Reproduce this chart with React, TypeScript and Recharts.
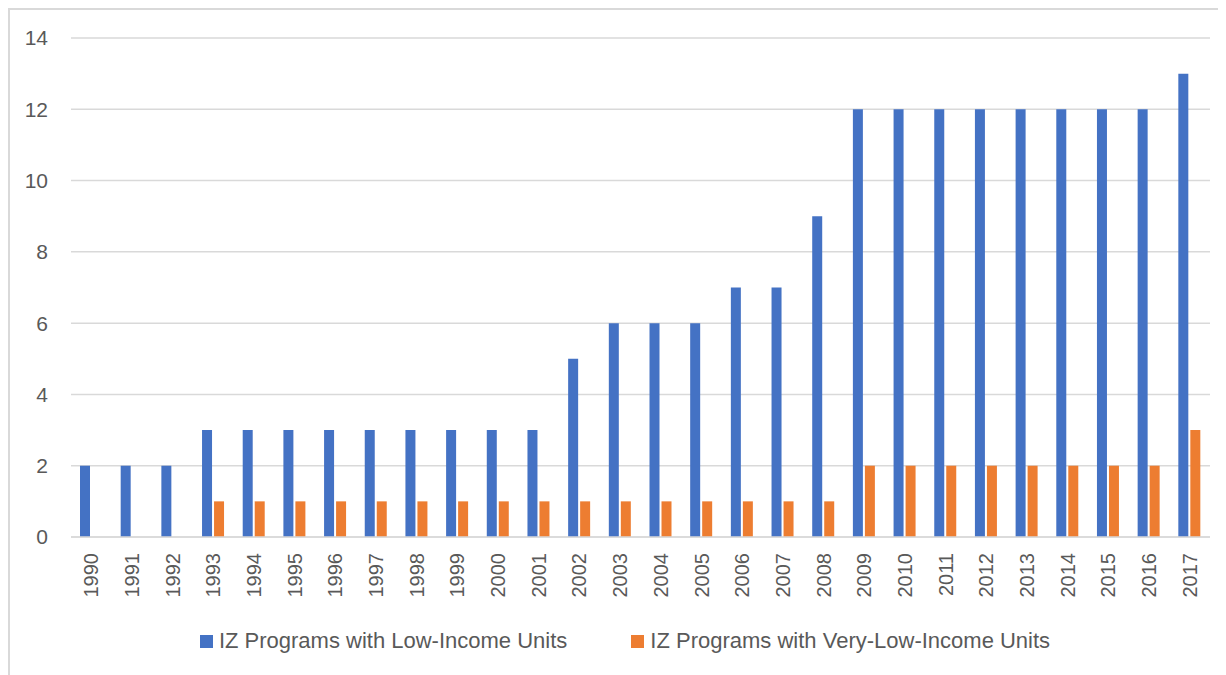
import { BarChart, Bar, XAxis, YAxis, CartesianGrid, Legend } from "recharts";

const years = [
  "1990", "1991", "1992", "1993", "1994", "1995", "1996", "1997", "1998", "1999",
  "2000", "2001", "2002", "2003", "2004", "2005", "2006", "2007", "2008", "2009",
  "2010", "2011", "2012", "2013", "2014", "2015", "2016", "2017",
];
const lowIncome = [2, 2, 2, 3, 3, 3, 3, 3, 3, 3, 3, 3, 5, 6, 6, 6, 7, 7, 9, 12, 12, 12, 12, 12, 12, 12, 12, 13];
const veryLowIncome = [0, 0, 0, 1, 1, 1, 1, 1, 1, 1, 1, 1, 1, 1, 1, 1, 1, 1, 1, 2, 2, 2, 2, 2, 2, 2, 2, 3];
const yTicks = [0, 2, 4, 6, 8, 10, 12, 14];
const seriesNames = ["IZ Programs with Low-Income Units", "IZ Programs with Very-Low-Income Units"];
const seriesColors = ["#4472C4", "#ED7D31"];

const data = years.map((year, i) => ({
  year,
  low: lowIncome[i],
  veryLow: veryLowIncome[i],
}));

const FONT = "'Liberation Sans', Arial, sans-serif";
const GRAY = "#595959";

function YearTick(props: any) {
  const { x, y, payload } = props;
  return (
    <text
      transform={`translate(${x},${y + 16}) rotate(-90)`}
      textAnchor="end"
      dominantBaseline="central"
      fill={GRAY}
      fontSize={20}
      fontFamily={FONT}
    >
      {payload.value}
    </text>
  );
}

function LegendBox() {
  return (
    <div
      style={{
        display: "flex",
        justifyContent: "center",
        alignItems: "center",
        gap: 64,
        height: 26,
        paddingLeft: 30,
        fontFamily: FONT,
        fontSize: 22,
        color: GRAY,
      }}
    >
      {seriesNames.map((name, i) => (
        <div key={name} style={{ display: "flex", alignItems: "center" }}>
          <span style={{ width: 13, height: 13, background: seriesColors[i], marginRight: 6, display: "inline-block" }} />
          <span style={{ lineHeight: "26px", whiteSpace: "nowrap" }}>{name}</span>
        </div>
      ))}
    </div>
  );
}

export default function App() {
  return (
    <div style={{ borderLeft: "2px solid #d9d9d9", borderTop: "2px solid #d9d9d9", width: 1216, height: 665 }}>
      <BarChart
        width={1216}
        height={665}
        data={data}
        margin={{ top: 28, right: 16, left: 0, bottom: 21 }}
        barSize={10}
        barGap={2}
        style={{ fontFamily: FONT }}
      >
        <CartesianGrid vertical={false} stroke="#d9d9d9" strokeWidth={1.5} />
        <XAxis
          dataKey="year"
          interval={0}
          height={91}
          tick={<YearTick />}
          tickSize={0}
          tickMargin={0}
          axisLine={{ stroke: "#d9d9d9", strokeWidth: 1.5 }}
          tickLine={false}
        />
        <YAxis
          width={61}
          domain={[0, 14]}
          ticks={yTicks}
          tickSize={0}
          tickMargin={23}
          axisLine={false}
          tickLine={false}
          tick={{ fill: GRAY, fontSize: 21, fontFamily: FONT }}
        />
        <Legend verticalAlign="bottom" content={<LegendBox />} />
        <Bar dataKey="low" name={seriesNames[0]} fill={seriesColors[0]} isAnimationActive={false} />
        <Bar dataKey="veryLow" name={seriesNames[1]} fill={seriesColors[1]} isAnimationActive={false} />
      </BarChart>
    </div>
  );
}
